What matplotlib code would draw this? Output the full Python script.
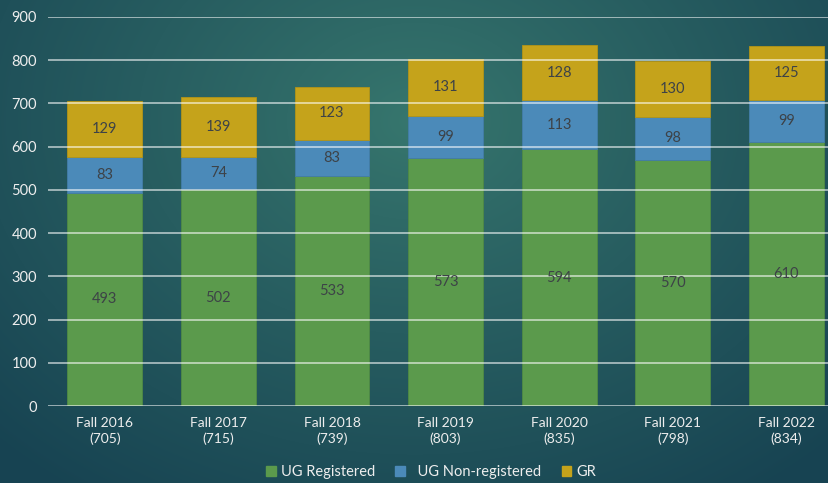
import matplotlib
matplotlib.use("Agg")
import matplotlib.pyplot as plt
import numpy as np
from matplotlib.patches import Patch

categories = ["Fall 2016\n(705)", "Fall 2017\n(715)", "Fall 2018\n(739)", "Fall 2019\n(803)",
              "Fall 2020\n(835)", "Fall 2021\n(798)", "Fall 2022\n(834)"]
ug_registered = [493, 502, 533, 573, 594, 570, 610]
ug_nonreg = [83, 74, 83, 99, 113, 98, 99]
gr = [129, 139, 123, 131, 128, 130, 125]
series_names = ["UG Registered", "  UG Non-registered", "GR"]
colors = ["#5b9a4c", "#4b8ab9", "#c5a31b"]

plt.rcParams['font.family'] = ['Lato', 'DejaVu Sans']

W, H = 829, 483
fig = plt.figure(figsize=(W / 100, H / 100), dpi=100)

# background radial gradient
bg = fig.add_axes([0, 0, 1, 1], zorder=-10)
yy, xx = np.mgrid[0:H, 0:W]
cx, cy = 0.5 * W, 0.25 * H
r = np.sqrt(((xx - cx) / (0.72 * W)) ** 2 + ((yy - cy) / (0.95 * H)) ** 2)
r = np.clip(r, 0, 1) ** 0.9
c_in = np.array([0x37, 0x77, 0x6e]) / 255
c_out = np.array([0x17, 0x43, 0x52]) / 255
img = c_in[None, None, :] * (1 - r[..., None]) + c_out[None, None, :] * r[..., None]
bg.imshow(img, aspect='auto', extent=[0, 1, 0, 1], origin='upper')
bg.axis('off')

left_px, right_px = 48, 829
top_px, bot_px = 17, 406
ax = fig.add_axes([left_px / W, 1 - bot_px / H, (right_px - left_px) / W, (bot_px - top_px) / H])
ax.patch.set_alpha(0)

x = np.arange(len(categories))
bw = 0.66
b1 = ax.bar(x, ug_registered, bw, color=colors[0], zorder=2, edgecolor="#4f8a44", linewidth=0.6)
b2 = ax.bar(x, ug_nonreg, bw, bottom=ug_registered, color=colors[1], zorder=2, edgecolor="#437da8", linewidth=0.6)
bottom3 = [a + b for a, b in zip(ug_registered, ug_nonreg)]
b3 = ax.bar(x, gr, bw, bottom=bottom3, color=colors[2], zorder=2, edgecolor="#b39417", linewidth=0.6)

for bars, vals, bots in [(b1, ug_registered, [0] * 7), (b2, ug_nonreg, ug_registered), (b3, gr, bottom3)]:
    for i, (v, b) in enumerate(zip(vals, bots)):
        ax.text(x[i], b + v / 2, str(v), ha='center', va='center', fontsize=10.5, color="#3d4247", zorder=4)

ax.set_ylim(0, 900)
ax.set_yticks(range(0, 901, 100))
span = 113.6
ax.set_xlim(-0.5, -0.5 + (right_px - left_px) / span)
ax.set_xticks(x)
ax.set_xticklabels(categories)
ax.yaxis.grid(True, color='white', alpha=0.6, linewidth=1.3, zorder=3)
ax.set_axisbelow(False)
for s in ax.spines.values():
    s.set_visible(False)
ax.tick_params(axis='both', length=0, colors='#eeeeee', labelsize=10)
ax.tick_params(axis='y', labelsize=10.5, pad=8)
ax.tick_params(axis='x', pad=8)
for lbl in ax.get_xticklabels():
    lbl.set_linespacing(1.3)

handles = [Patch(color=c) for c in colors]
leg = fig.legend(handles, series_names, loc='center', bbox_to_anchor=(0.52, 1 - 472 / H), ncol=3,
                 frameon=False, fontsize=10.5, handlelength=0.65, handleheight=0.65, columnspacing=1.4,
                 handletextpad=0.35, labelcolor='#eeeeee')

fig.savefig("out.png", dpi=100)
